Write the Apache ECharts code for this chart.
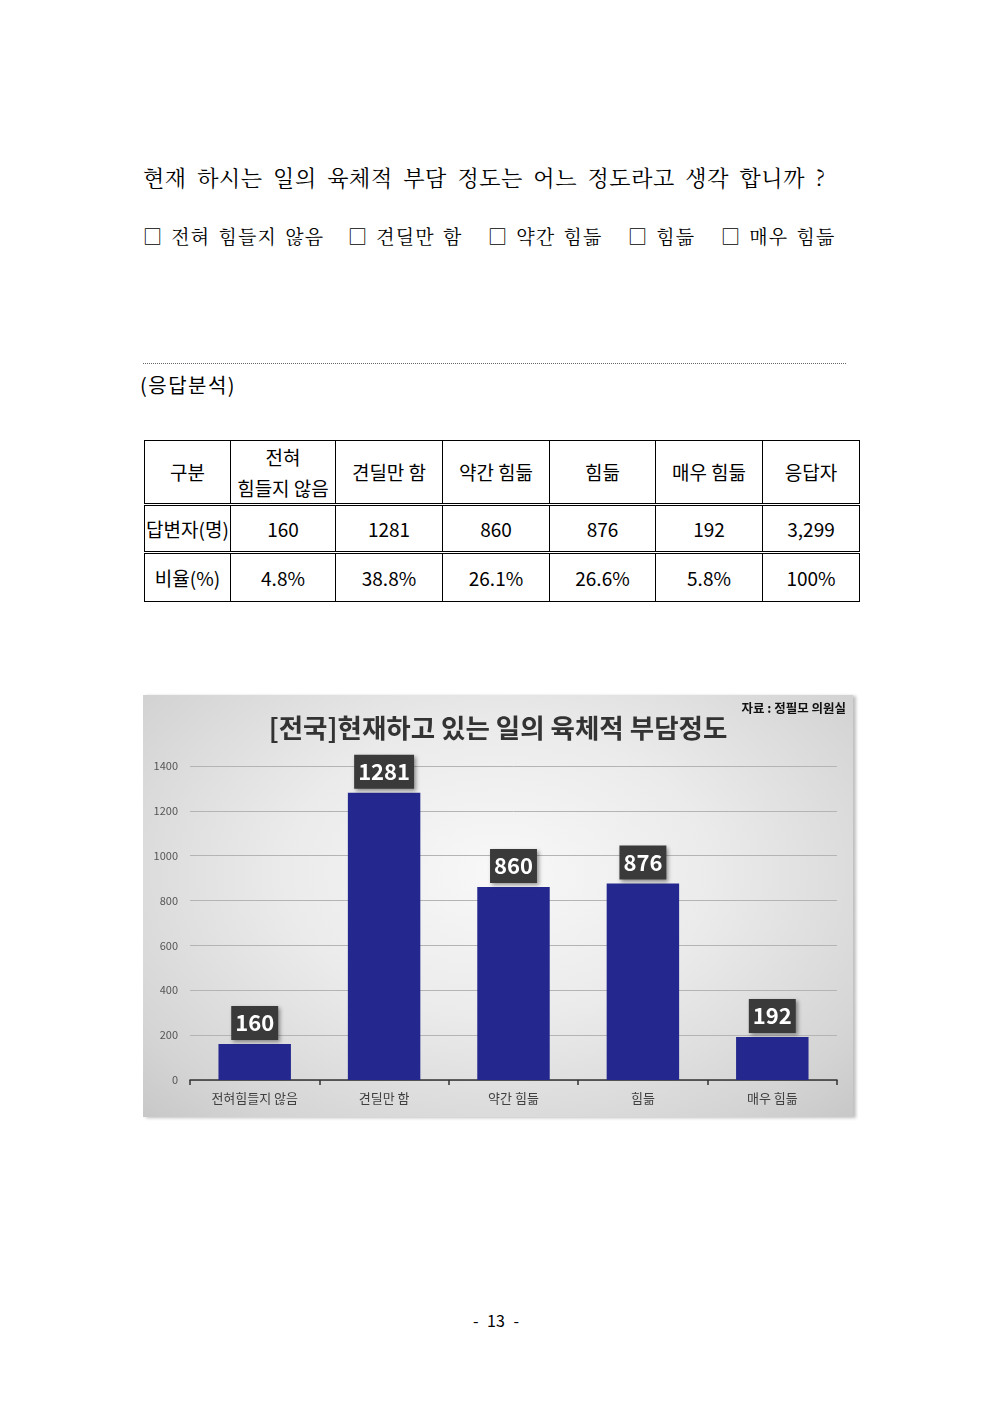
<!DOCTYPE html>
<html><head><meta charset="utf-8">
<script src="https://cdn.jsdelivr.net/npm/echarts@6/dist/echarts.min.js"></script>
<style>
html,body{margin:0;padding:0;background:#fff;}
body{width:992px;height:1403px;position:relative;overflow:hidden;font-family:"Noto Sans CJK KR","Noto Sans",sans-serif;color:#000;}
.abs{position:absolute;white-space:nowrap;}
#q{left:143px;top:162px;font-size:22px;font-family:"Noto Serif CJK KR","Noto Sans CJK KR",serif;letter-spacing:0.6px;word-spacing:4.2px;line-height:30px;}
.opt{top:223px;font-size:19px;line-height:26px;letter-spacing:1.2px;word-spacing:2px;font-family:"Noto Serif CJK KR","Noto Sans CJK KR",serif;}
#dots{left:143px;top:363px;width:703px;border-top:1px dotted #666;}
#ana{left:140px;top:371px;font-size:20px;line-height:28px;letter-spacing:1.5px;}
#tbl{position:absolute;left:144px;top:440px;border-collapse:collapse;table-layout:fixed;}
#tbl td{border:1px solid #000;text-align:center;padding:0;font-size:19px;line-height:26px;}
#tbl td.two{line-height:31px;}
#tbl tr.h td{height:59px;border-bottom:3px double #000;}
#tbl tr.r1 td{height:45px;border-bottom:3px double #000;}
#tbl tr.r2 td{height:47px;}
#chart{position:absolute;left:143px;top:695px;width:710px;height:422px;
background:radial-gradient(ellipse 75% 85% at 50% 42%,#f8f8f8 0%,#ebebeb 40%,#d4d4d4 80%,#c4c4c4 100%);
box-shadow:3px 1px 3px rgba(0,0,0,0.25);}
#pg{left:0;width:992px;text-align:center;top:1309px;font-size:16px;line-height:22px;word-spacing:5px;}
</style></head>
<body>
<div id="q" class="abs">현재 하시는 일의 육체적 부담 정도는 어느 정도라고 생각 합니까 ?</div>
<div class="abs opt" style="left:143px">□ 전혀 힘들지 않음</div>
<div class="abs opt" style="left:348px">□ 견딜만 함</div>
<div class="abs opt" style="left:488px">□ 약간 힘듦</div>
<div class="abs opt" style="left:628px">□ 힘듦</div>
<div class="abs opt" style="left:721px">□ 매우 힘듦</div>
<div id="dots" class="abs"></div>
<div id="ana" class="abs">(응답분석)</div>
<table id="tbl"></table>
<div id="chart"></div>
<div id="pg" class="abs">- 13 -</div>
<script>
// ----- data -----
const tableHeader = ['구분', '전혀<br>힘들지 않음', '견딜만 함', '약간 힘듦', '힘듦', '매우 힘듦', '응답자'];
const respondents = [160, 1281, 860, 876, 192];
const respondentTotal = '3,299';
const ratios = ['4.8%', '38.8%', '26.1%', '26.6%', '5.8%'];
const ratioTotal = '100%';
const chartCategories = ['전혀힘들지 않음', '견딜만 함', '약간 힘듦', '힘듦', '매우 힘듦'];
const chartValues = [160, 1281, 860, 876, 192];
const chartTitle = '[전국]현재하고 있는 일의 육체적 부담정도';
const chartSource = '자료 : 정필모 의원실';

// ----- table -----
const colW = [86, 105, 107, 107, 106, 107, 97];
let html = '<colgroup>' + colW.map(w => '<col style="width:' + w + 'px">').join('') + '</colgroup>';
html += '<tr class="h">' + tableHeader.map(t => '<td' + (t.indexOf('<br>') >= 0 ? ' class="two"' : '') + '>' + t + '</td>').join('') + '</tr>';
html += '<tr class="r1"><td>답변자(명)</td>' + respondents.map(v => '<td>' + v + '</td>').join('') + '<td>' + respondentTotal + '</td></tr>';
html += '<tr class="r2"><td>비율(%)</td>' + ratios.map(v => '<td>' + v + '</td>').join('') + '<td>' + ratioTotal + '</td></tr>';
document.getElementById('tbl').innerHTML = html;

// ----- chart -----
const chart = echarts.init(document.getElementById('chart'), null, {renderer: 'canvas'});
const F = '"Noto Sans CJK KR", "Noto Sans", sans-serif';
chart.setOption({
  backgroundColor: 'transparent',
  animation: false,
  title: [{
    text: chartTitle, left: 'center', top: 15,
    textStyle: {fontFamily: F, fontSize: 26.5, fontWeight: 'bold', color: '#333'}
  }, {
    text: chartSource, right: 2, top: 2,
    textStyle: {fontFamily: F, fontSize: 12.5, fontWeight: 'bold', color: '#111'}
  }],
  grid: {left: 47, right: 16, top: 71, bottom: 37, containLabel: false},
  xAxis: {
    type: 'category', data: chartCategories,
    axisLine: {show: true, lineStyle: {color: '#333', width: 1.5}},
    axisTick: {show: true, length: 5, lineStyle: {color: '#333', width: 1.5}},
    axisLabel: {fontFamily: F, fontSize: 13, color: '#404040', margin: 12}
  },
  yAxis: {
    type: 'value', min: 0, max: 1400, interval: 200,
    axisLine: {show: false}, axisTick: {show: false},
    axisLabel: {fontFamily: F, fontSize: 11, color: '#555', margin: 12, formatter: v => String(v)},
    splitLine: {lineStyle: {color: '#b4b4b4', width: 1}}
  },
  series: [{
    type: 'bar', data: chartValues, barWidth: '56%',
    itemStyle: {color: '#24288e'},
    label: {
      show: true, position: 'top', distance: 4,
      fontFamily: F, fontSize: 22, fontWeight: 'bold', color: '#fff',
      backgroundColor: '#3a3a3a', padding: [3, 4, 3, 4], lineHeight: 28,
      shadowColor: 'rgba(0,0,0,0.4)', shadowBlur: 4, shadowOffsetX: 2, shadowOffsetY: 2
    }
  }]
});
</script>
</body></html>
